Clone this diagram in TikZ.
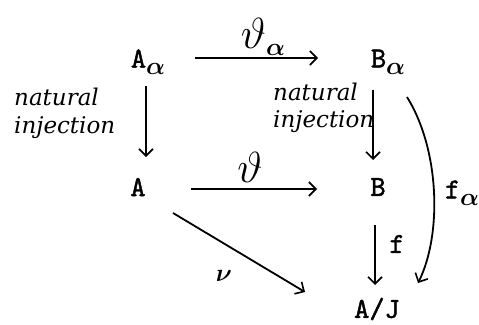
\documentclass[tikz,border=0pt]{standalone}
\usepackage{amsmath}
\usepackage{fontspec}
\newfontfamily\handfont{DejaVu Serif}
\newfontfamily\objfont{lmmono10-regular.otf}[FakeBold=1.5]
\usetikzlibrary{arrows.meta}
\newcommand{\subal}{\raisebox{-7pt}{\fontsize{26}{26}\selectfont$\boldsymbol{\alpha}$}}
\newcommand{\bigth}{\scalebox{1.75}{$\vartheta$}}
\begin{document}
\begin{tikzpicture}[x=1pt,y=-1pt,
  obj/.style={inner sep=2pt, font=\fontsize{29}{29}\selectfont\objfont},
  lab/.style={inner sep=1pt, font=\fontsize{28}{28}\selectfont},
  hand/.style={inner sep=0pt, anchor=base west, font=\fontsize{23}{23}\selectfont\handfont\itshape},
  arr/.style={line width=1.8pt, -{Straight Barb[length=7pt,width=14pt,line width=1.6pt]}}]
\useasboundingbox (0,0) rectangle (479,324);
\node[obj] (Aa) at (148,62) {A\subal};
\node[obj] (Ba) at (388,62) {B\subal};
\node[obj] (A) at (138,187) {A};
\node[obj] (B) at (378,187) {B};
\node[obj] (AJ) at (377,309) {A/J};
\coordinate (a1) at (195,58); \coordinate (a2) at (318,58);
\draw[arr] (a1) -- (a2);
\node[lab] (ta) at (263,37) {\bigth\subal};
\coordinate (d1) at (146,86); \coordinate (d2) at (146,157);
\draw[arr] (d1) -- (d2);
\node[hand] (ni1a) at (14,105) {natural};
\node[hand] (ni1b) at (14,133) {injection};
\coordinate (e1) at (191,189); \coordinate (e2) at (317,189);
\draw[arr] (e1) -- (e2);
\node[lab] (t) at (250,167) {\bigth};
\coordinate (g1) at (373,90); \coordinate (g2) at (373,160);
\draw[arr] (g1) -- (g2);
\node[hand] (ni2a) at (273,100) {natural};
\node[hand] (ni2b) at (273,127) {injection};
\coordinate (h1) at (375,225); \coordinate (h2) at (375,285);
\draw[arr] (h1) -- (h2);
\node[obj] (f) at (397,244) {f};
\coordinate (c1) at (407,97); \coordinate (c2) at (418,283);
\draw[arr] (c1) .. controls (440,150) and (442,235) .. (c2);
\node[obj] (fa) at (462,193) {f\subal};
\coordinate (n1) at (173,213); \coordinate (n2) at (305,292);
\draw[arr] (n1) -- (n2);
\node[lab] (nu) at (224,276) {$\boldsymbol{\nu}$};
\end{tikzpicture}
\end{document}
